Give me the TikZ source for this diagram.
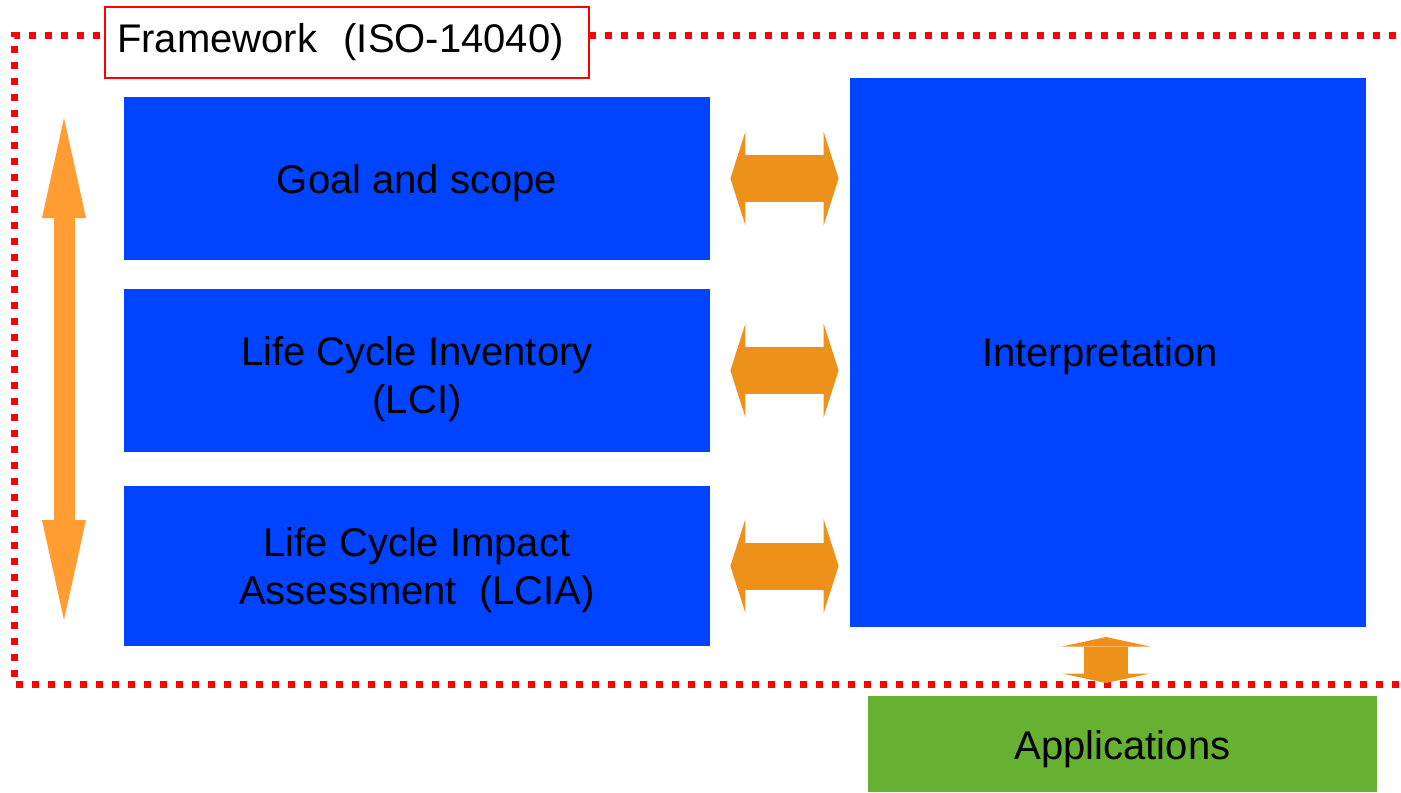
\documentclass[tikz,border=0pt]{standalone}
\usepackage{fontspec}
\setmainfont{Liberation Sans}
\usetikzlibrary{arrows.meta,positioning}
\definecolor{stageblue}{HTML}{0044FF}
\definecolor{appgreen}{HTML}{66B032}
\definecolor{linkorange}{HTML}{EE911A}
\definecolor{sideorange}{HTML}{FF9D33}
\begin{document}
\begin{tikzpicture}[x=0.5pt, y=-0.5pt,
  every node/.style={font=\fontsize{20}{24}\selectfont},
  every label/.style={align=center, inner sep=0pt},
  stage/.style={fill=stageblue, minimum width=293pt, minimum height=81.5pt, inner sep=0pt},
  frame/.style={draw=red, line width=3.5pt, dash pattern=on 3.5pt off 4.5pt},
  link/.style={color=linkorange, line width=23.5pt, {Triangle[length=7.5pt,width=47pt,line width=0pt]}-{Triangle[length=7.5pt,width=47pt,line width=0pt]}, shorten <=10pt, shorten >=5.5pt}]
\useasboundingbox (0,0) rectangle (1401,792);

\draw[frame] (1412,36) -| (14,684) -- (1412,684);
\node[draw=red, line width=1pt, fill=white, anchor=west, text width=230pt, inner xsep=6pt, minimum height=35.5pt, align=left] (title) at (104,42.5) {Framework\ \ (ISO-14040)};

\node[stage, label={[yshift=-2.5pt]center:Goal and scope}] (goal) at (417,178.5) {};
\node[stage, label={[yshift=-4.5pt]center:Life Cycle Inventory\\(LCI)}] (lci) at (417,370.5) {};
\node[stage, minimum height=80pt, label={[yshift=-2pt]center:Life Cycle Impact\\Assessment\ \ (LCIA)}] (lcia) at (417,566) {};
\node[fill=stageblue, minimum width=258pt, minimum height=274.5pt, inner sep=0pt, label={[xshift=-4pt,yshift=-2pt]center:Interpretation}] (interp) at (1108,352.5) {};
\node[fill=appgreen, minimum width=254.5pt, minimum height=48pt, inner sep=0pt, label={[yshift=-2.5pt]center:Applications}] (apps) at (1122.5,744) {};

\coordinate (top) at (64,118);
\coordinate (bot) at (64,620);
\coordinate (up) at (1106,627);
\coordinate (down) at (1106,696);

\path[link]
  (goal.east) edge (goal.east -| interp.west)
  (lci.east) edge (lci.east -| interp.west)
  (lcia.east) edge (lcia.east -| interp.west);
\draw[color=linkorange, line width=22pt, {Triangle[length=4.75pt,width=44pt,line width=0pt]}-{Triangle[length=4.75pt,width=44pt,line width=0pt]}, shorten <=5pt, shorten >=6.5pt] (up) -- (down);
\draw[color=sideorange, line width=10.5pt, {Triangle[length=50pt,width=22pt,line width=0pt]}-{Triangle[length=50pt,width=22pt,line width=0pt]}] (top) -- (bot);
\end{tikzpicture}
\end{document}
